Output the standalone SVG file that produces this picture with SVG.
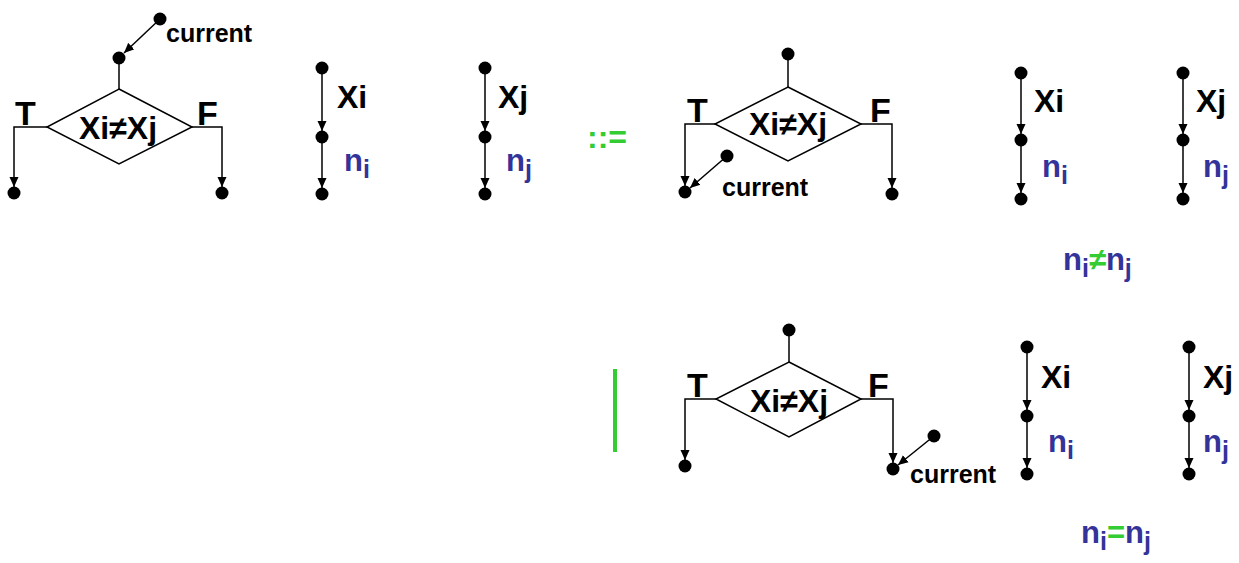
<svg xmlns="http://www.w3.org/2000/svg" width="1239" height="563" viewBox="0 0 1239 563">
<style>
text{font-family:"Liberation Sans",Arial,sans-serif;font-weight:bold;}
.lbl{font-size:32px;fill:#000;}
.tf{font-size:34px;fill:#000;}
.cond{font-size:32px;fill:#000;text-anchor:middle;}
.cur{font-size:25px;fill:#000;}
.n{font-size:31px;fill:#333399;}
.sub{font-size:25px;}
.g{fill:#33cc33;}
.dot{fill:#000;}
.dia{fill:#fff;stroke:#000;stroke-width:1.5;}
.c{fill:none;stroke:#000;stroke-width:1.5;}
.a{marker-end:url(#ah);}
</style>
<defs>
<marker id="ah" markerUnits="userSpaceOnUse" markerWidth="10" markerHeight="10" refX="10" refY="5" orient="auto">
<path d="M0,0.5 L10,5 L0,9.5 z" fill="#000"/>
</marker>
</defs>
<rect width="1239" height="563" fill="#fff"/>

<g id="connectors">
<!-- panel 1 -->
<line class="c a" x1="160" y1="19" x2="124" y2="53"/>
<line class="c" x1="119" y1="58" x2="119" y2="89"/>
<polyline class="c a" points="47,127 14,127 14,187"/>
<polyline class="c a" points="192,127 222,127 222,187"/>
<line class="c a" x1="322" y1="68" x2="322" y2="131"/>
<line class="c a" x1="322" y1="137" x2="322" y2="188"/>
<line class="c a" x1="485" y1="68" x2="485" y2="131"/>
<line class="c a" x1="485" y1="137" x2="485" y2="188"/>
<!-- panel 2 -->
<line class="c" x1="788" y1="54" x2="788" y2="87"/>
<polyline class="c a" points="715,124 685,124 685,186"/>
<polyline class="c a" points="861,124 892,124 892,188"/>
<line class="c a" x1="727" y1="156" x2="690" y2="188"/>
<line class="c a" x1="1021" y1="73" x2="1021" y2="134"/>
<line class="c a" x1="1021" y1="140" x2="1021" y2="193"/>
<line class="c a" x1="1183" y1="73" x2="1183" y2="134"/>
<line class="c a" x1="1183" y1="140" x2="1183" y2="193"/>
<!-- panel 3 -->
<line class="c" x1="789" y1="330" x2="789" y2="362"/>
<polyline class="c a" points="716,399 685,399 685,460"/>
<polyline class="c a" points="861,399 893,399 893,463"/>
<line class="c a" x1="934" y1="436" x2="898" y2="465"/>
<line class="c a" x1="1027" y1="347" x2="1027" y2="410"/>
<line class="c a" x1="1027" y1="416" x2="1027" y2="468"/>
<line class="c a" x1="1189" y1="347" x2="1189" y2="410"/>
<line class="c a" x1="1189" y1="416" x2="1189" y2="468"/>
</g>

<!-- Panel 1 -->
<g id="p1-cond">
<polygon class="dia" points="119,89 192,127 119,164 47,127"/>
<text class="cond" x="118" y="139">Xi≠Xj</text>
<text class="tf" x="15" y="125">T</text>
<text class="tf" x="197" y="125">F</text>
</g>
<g id="p1-current"><circle class="dot" cx="160" cy="19" r="6.5"/><text class="cur" x="166" y="42">current</text></g>
<g id="p1-top"><circle class="dot" cx="119" cy="58" r="6.5"/></g>
<g id="p1-t"><circle class="dot" cx="14" cy="193" r="6.5"/></g>
<g id="p1-f"><circle class="dot" cx="222" cy="193" r="6.5"/></g>
<g id="p1-chain-i">
<circle class="dot" cx="322" cy="68" r="6.5"/><circle class="dot" cx="322" cy="137" r="6.5"/><circle class="dot" cx="322" cy="194" r="6.5"/>
<text class="lbl" x="337" y="108">Xi</text>
<text class="n" x="344" y="171">n<tspan class="sub" dy="7">i</tspan></text>
</g>
<g id="p1-chain-j">
<circle class="dot" cx="485" cy="68" r="6.5"/><circle class="dot" cx="485" cy="137" r="6.5"/><circle class="dot" cx="485" cy="194" r="6.5"/>
<text class="lbl" x="498" y="108">Xj</text>
<text class="n" x="506" y="171">n<tspan class="sub" dy="7">j</tspan></text>
</g>
<g id="defsym"><text class="lbl g" x="587" y="148">::=</text></g>

<!-- Panel 2 -->
<g id="p2-cond">
<polygon class="dia" points="788,87 861,124 788,161 715,124"/>
<text class="cond" x="788" y="135">Xi≠Xj</text>
<text class="tf" x="687" y="122">T</text>
<text class="tf" x="870" y="122">F</text>
</g>
<g id="p2-top"><circle class="dot" cx="788" cy="54" r="6.5"/></g>
<g id="p2-t"><circle class="dot" cx="685" cy="192" r="6.5"/></g>
<g id="p2-f"><circle class="dot" cx="892" cy="194" r="6.5"/></g>
<g id="p2-current"><circle class="dot" cx="727" cy="156" r="6.5"/><text class="cur" x="722" y="196">current</text></g>
<g id="p2-chain-i">
<circle class="dot" cx="1021" cy="73" r="6.5"/><circle class="dot" cx="1021" cy="140" r="6.5"/><circle class="dot" cx="1021" cy="199" r="6.5"/>
<text class="lbl" x="1034" y="112">Xi</text>
<text class="n" x="1042" y="177">n<tspan class="sub" dy="7">i</tspan></text>
</g>
<g id="p2-chain-j">
<circle class="dot" cx="1183" cy="73" r="6.5"/><circle class="dot" cx="1183" cy="140" r="6.5"/><circle class="dot" cx="1183" cy="199" r="6.5"/>
<text class="lbl" x="1196" y="112">Xj</text>
<text class="n" x="1203" y="177">n<tspan class="sub" dy="7">j</tspan></text>
</g>
<g id="p2-constraint"><text class="n" x="1063" y="270">n<tspan class="sub" dy="7">i</tspan><tspan class="g" dy="-7">≠</tspan>n<tspan class="sub" dy="7">j</tspan></text></g>

<!-- Panel 3 -->
<g id="alt-bar"><rect x="613" y="369" width="4" height="83" fill="#33cc33"/></g>
<g id="p3-cond">
<polygon class="dia" points="789,362 861,399 789,437 716,399"/>
<text class="cond" x="789" y="412">Xi≠Xj</text>
<text class="tf" x="687" y="397">T</text>
<text class="tf" x="868" y="397">F</text>
</g>
<g id="p3-top"><circle class="dot" cx="789" cy="330" r="6.5"/></g>
<g id="p3-t"><circle class="dot" cx="685" cy="466" r="6.5"/></g>
<g id="p3-f"><circle class="dot" cx="893" cy="469" r="6.5"/></g>
<g id="p3-current"><circle class="dot" cx="934" cy="436" r="6.5"/><text class="cur" x="910" y="483">current</text></g>
<g id="p3-chain-i">
<circle class="dot" cx="1027" cy="347" r="6.5"/><circle class="dot" cx="1027" cy="416" r="6.5"/><circle class="dot" cx="1027" cy="474" r="6.5"/>
<text class="lbl" x="1041" y="388">Xi</text>
<text class="n" x="1048" y="452">n<tspan class="sub" dy="7">i</tspan></text>
</g>
<g id="p3-chain-j">
<circle class="dot" cx="1189" cy="347" r="6.5"/><circle class="dot" cx="1189" cy="416" r="6.5"/><circle class="dot" cx="1189" cy="474" r="6.5"/>
<text class="lbl" x="1203" y="388">Xj</text>
<text class="n" x="1203" y="452">n<tspan class="sub" dy="7">j</tspan></text>
</g>
<g id="p3-constraint"><text class="n" x="1081" y="543">n<tspan class="sub" dy="7">i</tspan><tspan class="g" dy="-7">=</tspan>n<tspan class="sub" dy="7">j</tspan></text></g>
</svg>
